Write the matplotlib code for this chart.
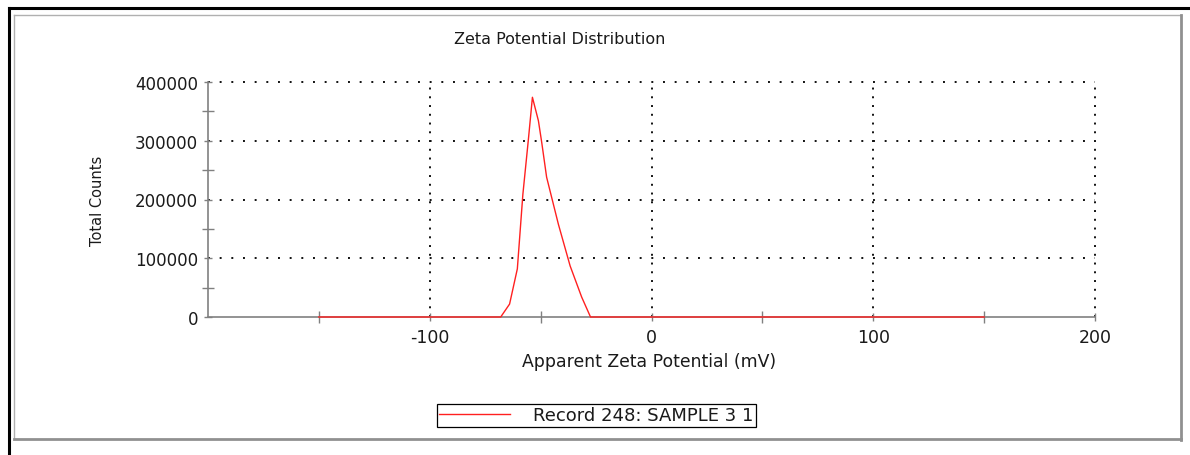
import numpy as np
import matplotlib.pyplot as plt
from matplotlib.lines import Line2D
from matplotlib.ticker import MultipleLocator, FixedLocator

# zeta potential distribution, record 248
zeta_mv = [-150, -68, -64, -60.5, -58, -55.5, -53.7, -51, -49.5, -47.3, -42, -36.7, -31.5, -27.5, 150]
counts = [0, 0, 22000, 82000, 209000, 303000, 374000, 334000, 297000, 238000, 158000, 87000, 34000, 0, 0]

x_major = [-100, 0, 100, 200]
x_minor = [-150, -50, 50, 150]
legend_label = 'Record 248: SAMPLE 3 1'

plt.rcParams['font.family'] = 'DejaVu Sans'
plt.rcParams['axes.unicode_minus'] = False
axis_gray = '#808080'
txt = '#1a1a1a'

fig = plt.figure(figsize=(11.9, 4.56), dpi=100)
ax = fig.add_axes([208/1190, 1 - 318/456, 887/1190, 235/456])

line, = ax.plot(zeta_mv, counts, color='#ff2020', lw=1.0, zorder=4, clip_on=False,
                label=legend_label)

ax.set_xlim(-200, 200)
ax.set_ylim(0, 400000)
ax.xaxis.set_major_locator(FixedLocator(x_major))
ax.xaxis.set_minor_locator(FixedLocator(x_minor))
ax.yaxis.set_major_locator(MultipleLocator(100000))
ax.yaxis.set_minor_locator(MultipleLocator(50000))

for s in ['top', 'right']:
    ax.spines[s].set_visible(False)
for s in ['left', 'bottom']:
    ax.spines[s].set_color(axis_gray)
    ax.spines[s].set_linewidth(1.2)

ax.tick_params(which='both', direction='inout', color=axis_gray, width=1.0,
               labelcolor=txt)
ax.tick_params(which='major', length=6)
ax.tick_params(which='minor', length=8)
ax.tick_params(axis='y', labelsize=12, pad=4)
ax.tick_params(axis='x', labelsize=12.5, pad=5)

# dotted grid, horizontal dots spaced wider than vertical ones
ax.yaxis.grid(True, which='major', color='#111111', lw=1.4, linestyle=(0, (1, 5)))
ax.xaxis.grid(True, which='major', color='#111111', lw=1.4, linestyle=(0, (1, 3.5)))
ax.set_axisbelow(True)
fig.canvas.draw()
for gl in ax.get_xgridlines() + ax.get_ygridlines():
    gl.set_clip_on(False)
# no dotted line along the zero axis
for tick in ax.yaxis.get_major_ticks():
    if tick.get_loc() == 0:
        tick.gridline.set_visible(False)

ax.set_xlabel('Apparent Zeta Potential (mV)', fontsize=12.4, color=txt)
ax.xaxis.set_label_coords(0.497, -0.15)
ax.set_ylabel('Total Counts', fontsize=10.5, color=txt)
ax.yaxis.set_label_coords(-0.116, 0.5)

fig.suptitle('Zeta Potential Distribution', x=560/1190, y=1 - 40/456,
             va='center', fontsize=11.5, color=txt)

leg = ax.legend(handles=[line], loc='center', bbox_to_anchor=(596.5/1190, 1 - 416.5/456),
                bbox_transform=fig.transFigure, fontsize=13, handlelength=3.9,
                handletextpad=1.3, borderpad=0.15, borderaxespad=0, fancybox=False,
                framealpha=1, edgecolor='black')
leg.get_frame().set_linewidth(0.9)
leg.get_lines()[0].set_linewidth(1.0)
for t in leg.get_texts():
    t.set_color(txt)

# page frame: black outer edge, gray panel with shadowed right/bottom sides
W, H = 1190, 456
def fline(xs, ys, **kw):
    fig.add_artist(Line2D([x / W for x in xs], [1 - y / H for y in ys],
                          transform=fig.transFigure, **kw))

fline([9, 9], [9, 456], color='black', lw=2.2)
fline([9, 1190], [9, 9], color='black', lw=2.2)
fline([14, 1181], [16, 16], color='#b0b0b0', lw=1.0)
fline([14, 14], [16, 440], color='#b0b0b0', lw=1.0)
fline([1180.5, 1180.5], [16, 440.5], color='#909090', lw=2.0)
fline([14, 1181], [440, 440], color='#909090', lw=2.0)

fig.savefig('out.png', dpi=100)
